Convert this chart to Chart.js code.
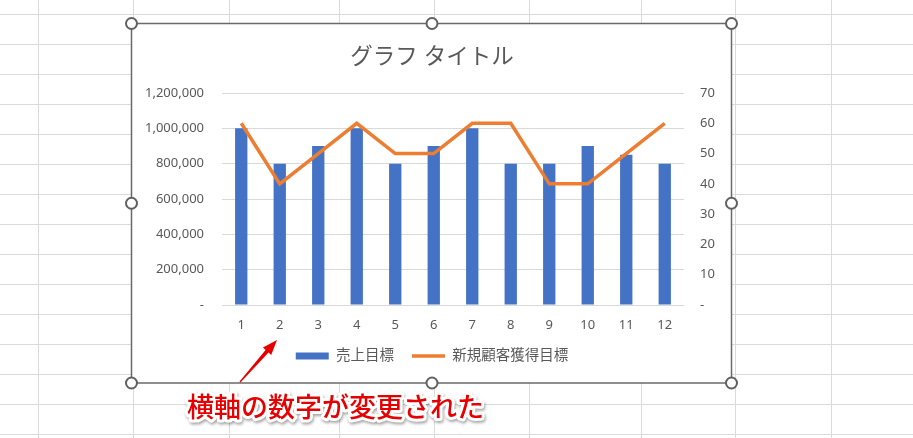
<!DOCTYPE html>
<html lang="ja">
<head>
<meta charset="utf-8">
<title>グラフ タイトル</title>
<script src="https://cdn.jsdelivr.net/npm/chart.js@4.4.1/dist/chart.umd.min.js"></script>
<style>
  html, body { margin: 0; padding: 0; background: #fff; }
  #wrap { position: relative; width: 913px; height: 438px; }
</style>
</head>
<body>
<div id="wrap"><canvas id="salesChart"></canvas></div>
<script>
// データ
const months = ['1', '2', '3', '4', '5', '6', '7', '8', '9', '10', '11', '12'];
const salesTarget = [1000000, 800000, 900000, 1000000, 800000, 900000, 1000000, 800000, 800000, 900000, 850000, 800000];
const newCustomerTarget = [60, 40, 50, 60, 50, 50, 60, 60, 40, 40, 50, 60];
const salesTicks = [0, 200000, 400000, 600000, 800000, 1000000, 1200000];
const customerTicks = [0, 10, 20, 30, 40, 50, 60, 70];

const FONT = '"Noto Sans", "Noto Sans CJK JP", sans-serif';
const GRAY = '#595959';

// シートの枠線
const sheetCols = [38.5, 133.5, 229.5, 339.5, 434.5, 529.5, 641.5, 735.5, 831.5];
const sheetRows = [];
for (let y = 14.5; y < 438; y += 30) sheetRows.push(y);

// グラフ枠（選択状態）
const frame = { left: 131.5, top: 23.5, right: 731.5, bottom: 383 };

// 0 は「-」で表示（会計形式）
function fmt(value) {
  return value === 0 ? '-' : Number(value).toLocaleString('en-US');
}

const sheetPlugin = {
  id: 'sheet',
  beforeDraw(chart) {
    const ctx = chart.ctx;
    ctx.save();
    ctx.fillStyle = '#fff';
    ctx.fillRect(0, 0, chart.width, chart.height);
    ctx.strokeStyle = '#dadada';
    ctx.lineWidth = 1;
    ctx.beginPath();
    sheetCols.forEach(x => { ctx.moveTo(x, 0); ctx.lineTo(x, chart.height); });
    sheetRows.forEach(y => { ctx.moveTo(0, y); ctx.lineTo(chart.width, y); });
    ctx.stroke();
    ctx.fillStyle = '#fff';
    ctx.fillRect(frame.left, frame.top, frame.right - frame.left, frame.bottom - frame.top);
    ctx.restore();
  },
  afterDraw(chart) {
    const ctx = chart.ctx;
    ctx.save();
    // 枠
    ctx.strokeStyle = '#6a6a6a';
    ctx.lineWidth = 1.5;
    ctx.strokeRect(frame.left, frame.top, frame.right - frame.left, frame.bottom - frame.top);
    // ハンドル
    const midX = (frame.left + frame.right) / 2 + 0.5;
    const midY = (frame.top + frame.bottom) / 2;
    const handles = [
      [frame.left, frame.top], [midX, frame.top], [frame.right, frame.top],
      [frame.left, midY], [frame.right, midY],
      [frame.left, frame.bottom], [midX, frame.bottom], [frame.right, frame.bottom]
    ];
    ctx.lineWidth = 2;
    ctx.strokeStyle = '#606060';
    ctx.fillStyle = '#fff';
    handles.forEach(([x, y]) => {
      ctx.beginPath();
      ctx.arc(x, y, 5.5, 0, Math.PI * 2);
      ctx.fill();
      ctx.stroke();
    });

    // 矢印
    const tail = { x: 240, y: 382 };
    const tip = { x: 277, y: 340 };
    const len = Math.hypot(tip.x - tail.x, tip.y - tail.y);
    const dx = (tip.x - tail.x) / len, dy = (tip.y - tail.y) / len;
    const px = -dy, py = dx;
    const headLen = 15, headHalf = 5.5;
    const bx = tip.x - dx * headLen, by = tip.y - dy * headLen;
    ctx.fillStyle = '#e60000';
    ctx.beginPath();
    ctx.moveTo(tail.x + px * 0.6, tail.y + py * 0.6);
    ctx.lineTo(bx + px * 2, by + py * 2);
    ctx.lineTo(bx + px * headHalf, by + py * headHalf);
    ctx.lineTo(tip.x, tip.y);
    ctx.lineTo(bx - px * headHalf, by - py * headHalf);
    ctx.lineTo(bx - px * 2, by - py * 2);
    ctx.lineTo(tail.x - px * 0.6, tail.y - py * 0.6);
    ctx.closePath();
    ctx.fill();

    // 注釈テキスト
    const note = '横軸の数字が変更された';
    ctx.font = '500 27px "Noto Sans CJK JP", sans-serif';
    ctx.textAlign = 'left';
    ctx.textBaseline = 'middle';
    ctx.lineJoin = 'round';
    ctx.shadowColor = 'rgba(0,0,0,0.35)';
    ctx.shadowBlur = 3;
    ctx.shadowOffsetX = 1;
    ctx.shadowOffsetY = 2;
    ctx.strokeStyle = '#fff';
    ctx.lineWidth = 6;
    ctx.strokeText(note, 187, 407);
    ctx.shadowColor = 'transparent';
    ctx.fillStyle = '#e60000';
    ctx.fillText(note, 187, 407);
    ctx.restore();
  }
};

const ctx = document.getElementById('salesChart').getContext('2d');
new Chart(ctx, {
  type: 'bar',
  data: {
    labels: months,
    datasets: [
      {
        type: 'line',
        label: '新規顧客獲得目標',
        data: newCustomerTarget,
        yAxisID: 'y1',
        borderColor: '#ED7D31',
        backgroundColor: '#ED7D31',
        borderWidth: 3.5,
        pointRadius: 0,
        pointHoverRadius: 0,
        pointStyle: 'line',
        tension: 0,
        order: 1
      },
      {
        type: 'bar',
        label: '売上目標',
        data: salesTarget,
        yAxisID: 'y',
        backgroundColor: '#4472C4',
        borderWidth: 0,
        pointStyle: 'rect',
        categoryPercentage: 1,
        barPercentage: 0.32,
        order: 2
      }
    ]
  },
  options: {
    responsive: true,
    maintainAspectRatio: false,
    animation: false,
    devicePixelRatio: 1,
    layout: { padding: { top: 28, left: 140, right: 189, bottom: 64.75 } },
    plugins: {
      tooltip: { enabled: false },
      title: {
        display: true,
        text: 'グラフ タイトル',
        color: GRAY,
        font: { family: FONT, size: 22.5, weight: 'normal' },
        padding: { top: 16, bottom: 22 }
      },
      legend: {
        position: 'bottom',
        reverse: true,
        labels: {
          color: GRAY,
          font: { family: FONT, size: 14.5 },
          usePointStyle: true,
          pointStyleWidth: 33,
          boxHeight: 7,
          padding: 18
        }
      }
    },
    scales: {
      x: {
        afterFit: scale => { scale.height = 25.75; },
        grid: { display: false, drawTicks: false },
        border: { display: false },
        ticks: { color: GRAY, font: { family: FONT, size: 13 }, padding: 12 }
      },
      y: {
        position: 'left',
        min: 0,
        max: 1200000,
        afterBuildTicks: scale => { scale.ticks = salesTicks.map(v => ({ value: v })); },
        afterFit: scale => { scale.width = 82; },
        grid: { color: '#d9d9d9', lineWidth: 1, drawTicks: false },
        border: { display: false },
        ticks: { color: GRAY, font: { family: FONT, size: 13 }, padding: 18, callback: fmt }
      },
      y1: {
        position: 'right',
        min: 0,
        max: 70,
        afterBuildTicks: scale => { scale.ticks = customerTicks.map(v => ({ value: v })); },
        afterFit: scale => { scale.width = 40; },
        grid: { display: false, drawTicks: false },
        border: { display: false },
        ticks: { color: GRAY, font: { family: FONT, size: 13 }, padding: 16, callback: fmt }
      }
    }
  },
  plugins: [sheetPlugin]
});
</script>
</body>
</html>
